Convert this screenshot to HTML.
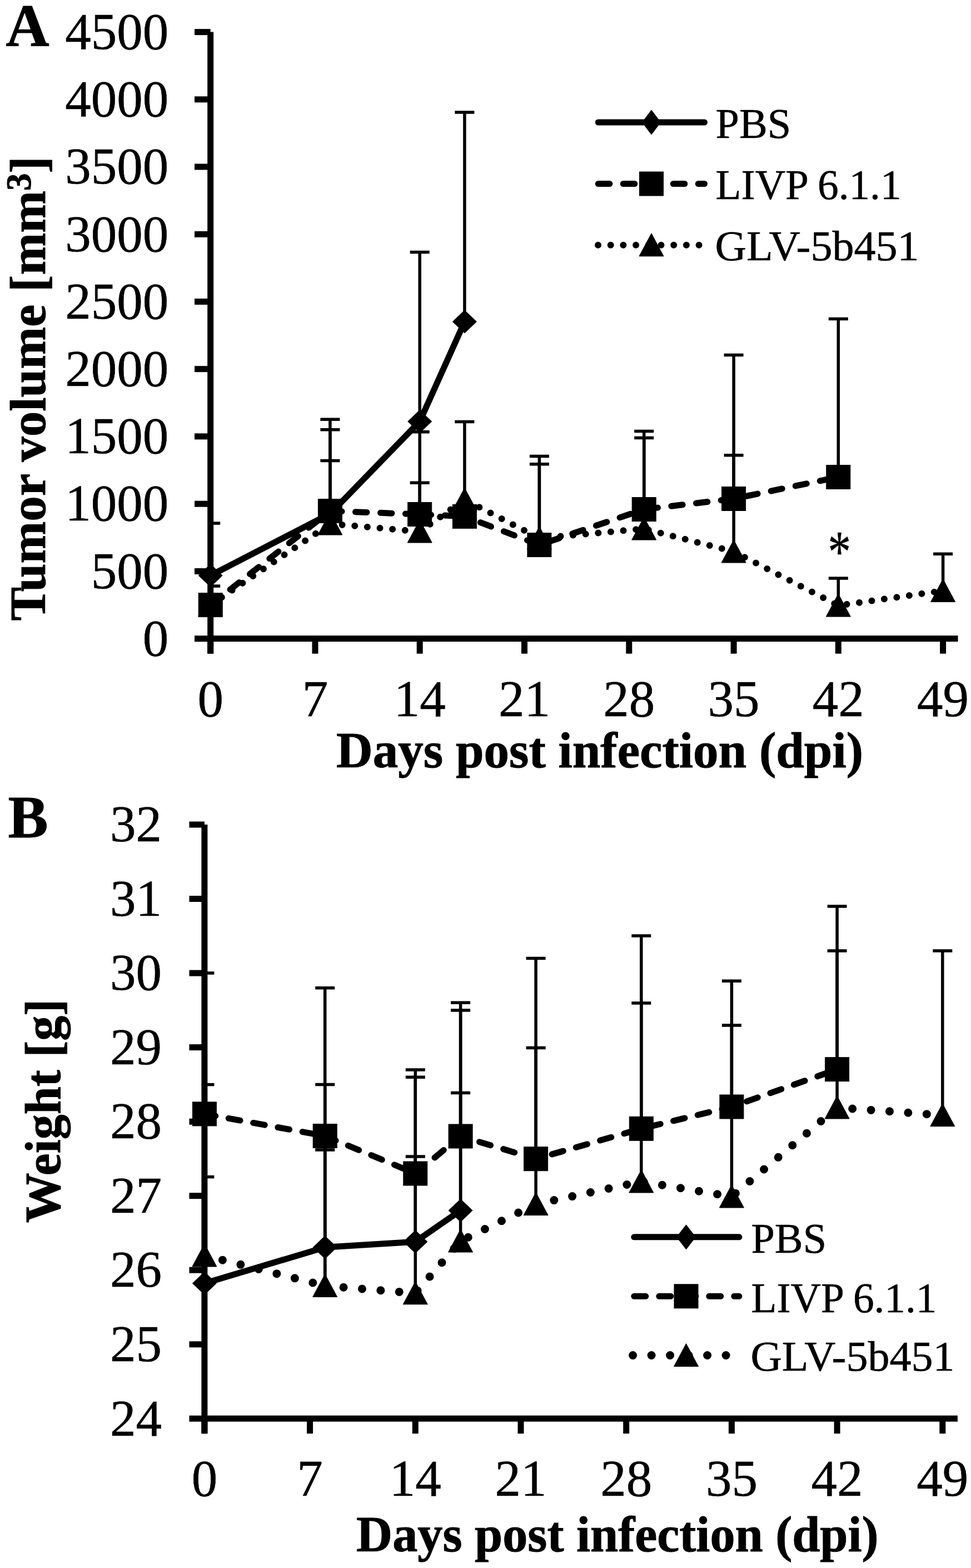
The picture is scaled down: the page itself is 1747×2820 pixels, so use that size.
<!DOCTYPE html>
<html><head><meta charset="utf-8"><title>Tumor volume and weight</title>
<style>
html,body{margin:0;padding:0;background:#fff;}
body{width:1747px;height:2820px;overflow:hidden;}
svg{display:block;font-family:"Liberation Serif","Times New Roman",serif;}

</style></head><body>
<svg width="1747" height="2820" viewBox="0 0 1747 2820">
<rect width="1747" height="2820" fill="#fff"/>
<g stroke="#000" fill="#000">
<line x1="378.7" y1="1035" x2="378.7" y2="941" stroke-width="5.5" stroke-linecap="butt" />
<line x1="378.7" y1="941" x2="396.2" y2="941" stroke-width="5.5" stroke-linecap="butt" />
<line x1="378.7" y1="1088" x2="378.7" y2="1054" stroke-width="5.5" stroke-linecap="butt" />
<line x1="378.7" y1="1054" x2="396.2" y2="1054" stroke-width="5.5" stroke-linecap="butt" />
<line x1="593.9" y1="924" x2="593.9" y2="754.2" stroke-width="5.5" stroke-linecap="butt" />
<line x1="576.4" y1="754.2" x2="611.4" y2="754.2" stroke-width="5.5" stroke-linecap="butt" />
<line x1="593.9" y1="919" x2="593.9" y2="772.7" stroke-width="5.5" stroke-linecap="butt" />
<line x1="576.4" y1="772.7" x2="611.4" y2="772.7" stroke-width="5.5" stroke-linecap="butt" />
<line x1="593.9" y1="942" x2="593.9" y2="828.4" stroke-width="5.5" stroke-linecap="butt" />
<line x1="576.4" y1="828.4" x2="611.4" y2="828.4" stroke-width="5.5" stroke-linecap="butt" />
<line x1="755.2" y1="758" x2="755.2" y2="453.5" stroke-width="5.5" stroke-linecap="butt" />
<line x1="737.7" y1="453.5" x2="772.7" y2="453.5" stroke-width="5.5" stroke-linecap="butt" />
<line x1="755.2" y1="925" x2="755.2" y2="776.7" stroke-width="5.5" stroke-linecap="butt" />
<line x1="737.7" y1="776.7" x2="772.7" y2="776.7" stroke-width="5.5" stroke-linecap="butt" />
<line x1="755.2" y1="956" x2="755.2" y2="868.3" stroke-width="5.5" stroke-linecap="butt" />
<line x1="737.7" y1="868.3" x2="772.7" y2="868.3" stroke-width="5.5" stroke-linecap="butt" />
<line x1="835.9" y1="578.5" x2="835.9" y2="201.9" stroke-width="5.5" stroke-linecap="butt" />
<line x1="818.4" y1="201.9" x2="853.4" y2="201.9" stroke-width="5.5" stroke-linecap="butt" />
<line x1="835.9" y1="928.8" x2="835.9" y2="758.6" stroke-width="5.5" stroke-linecap="butt" />
<line x1="818.4" y1="758.6" x2="853.4" y2="758.6" stroke-width="5.5" stroke-linecap="butt" />
<line x1="970.4" y1="980" x2="970.4" y2="820.4" stroke-width="5.5" stroke-linecap="butt" />
<line x1="952.9" y1="820.4" x2="987.9" y2="820.4" stroke-width="5.5" stroke-linecap="butt" />
<line x1="970.4" y1="968" x2="970.4" y2="834.7" stroke-width="5.5" stroke-linecap="butt" />
<line x1="952.9" y1="834.7" x2="987.9" y2="834.7" stroke-width="5.5" stroke-linecap="butt" />
<line x1="1158.7" y1="916" x2="1158.7" y2="775.5" stroke-width="5.5" stroke-linecap="butt" />
<line x1="1141.2" y1="775.5" x2="1176.2" y2="775.5" stroke-width="5.5" stroke-linecap="butt" />
<line x1="1158.7" y1="951" x2="1158.7" y2="787.5" stroke-width="5.5" stroke-linecap="butt" />
<line x1="1141.2" y1="787.5" x2="1176.2" y2="787.5" stroke-width="5.5" stroke-linecap="butt" />
<line x1="1320.1" y1="897" x2="1320.1" y2="638.6" stroke-width="5.5" stroke-linecap="butt" />
<line x1="1302.6" y1="638.6" x2="1337.6" y2="638.6" stroke-width="5.5" stroke-linecap="butt" />
<line x1="1320.1" y1="992" x2="1320.1" y2="818.7" stroke-width="5.5" stroke-linecap="butt" />
<line x1="1302.6" y1="818.7" x2="1337.6" y2="818.7" stroke-width="5.5" stroke-linecap="butt" />
<line x1="1508.3" y1="858" x2="1508.3" y2="573.5" stroke-width="5.5" stroke-linecap="butt" />
<line x1="1490.8" y1="573.5" x2="1525.8" y2="573.5" stroke-width="5.5" stroke-linecap="butt" />
<line x1="1508.3" y1="1089" x2="1508.3" y2="1040" stroke-width="5.5" stroke-linecap="butt" />
<line x1="1490.8" y1="1040" x2="1525.8" y2="1040" stroke-width="5.5" stroke-linecap="butt" />
<line x1="1696.6" y1="1062.4" x2="1696.6" y2="996.2" stroke-width="5.5" stroke-linecap="butt" />
<line x1="1679.1" y1="996.2" x2="1714.1" y2="996.2" stroke-width="5.5" stroke-linecap="butt" />
<polyline points="378.7,1035 593.9,924 755.2,758 835.9,578.5" fill="none" stroke-width="11" stroke-linecap="round" stroke-linejoin="round"/>
<line x1="378.7" y1="1088" x2="593.9" y2="919" fill="none" stroke-width="11" stroke-linecap="round" stroke-dasharray="20.5 24.5"/>
<line x1="593.9" y1="919" x2="755.2" y2="925" fill="none" stroke-width="11" stroke-linecap="round" stroke-dasharray="20.5 24.5" stroke-dashoffset="44.36"/>
<line x1="755.2" y1="925" x2="835.9" y2="928.8" fill="none" stroke-width="11" stroke-linecap="round" stroke-dasharray="20.5 24.5"/>
<line x1="835.9" y1="928.8" x2="970.4" y2="980" fill="none" stroke-width="11" stroke-linecap="round" stroke-dasharray="20.5 24.5" stroke-dashoffset="14.55"/>
<line x1="970.4" y1="980" x2="1158.7" y2="916" fill="none" stroke-width="11" stroke-linecap="round" stroke-dasharray="20.5 24.5" stroke-dashoffset="27.23"/>
<line x1="1158.7" y1="916" x2="1320.1" y2="897" fill="none" stroke-width="11" stroke-linecap="round" stroke-dasharray="20.5 24.5" stroke-dashoffset="40.59"/>
<line x1="1320.1" y1="897" x2="1508.3" y2="858" fill="none" stroke-width="11" stroke-linecap="round" stroke-dasharray="20.5 24.5" stroke-dashoffset="21.55"/>
<line x1="378.7" y1="1088" x2="593.9" y2="942" fill="none" stroke-width="12" stroke-linecap="round" stroke-dasharray="0 22.7" stroke-dashoffset="21.07"/>
<line x1="593.9" y1="942" x2="755.2" y2="956" fill="none" stroke-width="12" stroke-linecap="round" stroke-dasharray="0 22.7" stroke-dashoffset="0.86"/>
<line x1="755.2" y1="956" x2="835.9" y2="898.5" fill="none" stroke-width="12" stroke-linecap="round" stroke-dasharray="0 22.7"/>
<line x1="835.9" y1="898.5" x2="970.4" y2="968" fill="none" stroke-width="12" stroke-linecap="round" stroke-dasharray="0 22.7" stroke-dashoffset="15.62"/>
<line x1="970.4" y1="968" x2="1158.7" y2="951" fill="none" stroke-width="12" stroke-linecap="round" stroke-dasharray="0 22.7" stroke-dashoffset="7.17"/>
<line x1="1158.7" y1="951" x2="1320.1" y2="992" fill="none" stroke-width="12" stroke-linecap="round" stroke-dasharray="0 22.7" stroke-dashoffset="14.41"/>
<line x1="1320.1" y1="992" x2="1508.3" y2="1089" fill="none" stroke-width="12" stroke-linecap="round" stroke-dasharray="0 22.7" stroke-dashoffset="0.44"/>
<line x1="1508.3" y1="1089" x2="1696.6" y2="1062.4" fill="none" stroke-width="12" stroke-linecap="round" stroke-dasharray="0 22.7" stroke-dashoffset="7.35"/>
<polygon points="378.7,1014.5 400.2,1035 378.7,1055.5 357.2,1035"/>
<polygon points="593.9,903.5 615.4,924 593.9,944.5 572.4,924"/>
<polygon points="755.2,737.5 776.7,758 755.2,778.5 733.7,758"/>
<polygon points="835.9,558 857.4,578.5 835.9,599 814.4,578.5"/>
<rect x="357.2" y="1066.5" width="43" height="43"/>
<rect x="572.4" y="897.5" width="43" height="43"/>
<rect x="733.7" y="903.5" width="43" height="43"/>
<rect x="814.4" y="907.3" width="43" height="43"/>
<rect x="948.9" y="958.5" width="43" height="43"/>
<rect x="1137.2" y="894.5" width="43" height="43"/>
<rect x="1298.6" y="875.5" width="43" height="43"/>
<rect x="1486.8" y="836.5" width="43" height="43"/>
<polygon points="378.7,1067 400.7,1108 356.7,1108"/>
<polygon points="593.9,921 615.9,962 571.9,962"/>
<polygon points="755.2,935 777.2,976 733.2,976"/>
<polygon points="835.9,877.5 857.9,918.5 813.9,918.5"/>
<polygon points="970.4,947 992.4,988 948.4,988"/>
<polygon points="1158.7,930 1180.7,971 1136.7,971"/>
<polygon points="1320.1,971 1342.1,1012 1298.1,1012"/>
<polygon points="1508.3,1068 1530.3,1109 1486.3,1109"/>
<polygon points="1696.6,1041.4 1718.6,1082.4 1674.6,1082.4"/>
<line x1="378.7" y1="57.6" x2="378.7" y2="1175.6" stroke-width="11" stroke-linecap="butt" />
<line x1="350" y1="57.6" x2="378.7" y2="57.6" stroke-width="11" stroke-linecap="butt" />
<line x1="350" y1="178.8" x2="378.7" y2="178.8" stroke-width="11" stroke-linecap="butt" />
<line x1="350" y1="300" x2="378.7" y2="300" stroke-width="11" stroke-linecap="butt" />
<line x1="350" y1="421.3" x2="378.7" y2="421.3" stroke-width="11" stroke-linecap="butt" />
<line x1="350" y1="542.5" x2="378.7" y2="542.5" stroke-width="11" stroke-linecap="butt" />
<line x1="350" y1="663.7" x2="378.7" y2="663.7" stroke-width="11" stroke-linecap="butt" />
<line x1="350" y1="784.9" x2="378.7" y2="784.9" stroke-width="11" stroke-linecap="butt" />
<line x1="350" y1="906.2" x2="378.7" y2="906.2" stroke-width="11" stroke-linecap="butt" />
<line x1="350" y1="1027.4" x2="378.7" y2="1027.4" stroke-width="11" stroke-linecap="butt" />
<line x1="350" y1="1148.6" x2="378.7" y2="1148.6" stroke-width="11" stroke-linecap="butt" />
<line x1="378.7" y1="1148.6" x2="1723.5" y2="1148.6" stroke-width="11" stroke-linecap="butt" />
<line x1="378.7" y1="1148.6" x2="378.7" y2="1175.6" stroke-width="11" stroke-linecap="butt" />
<line x1="567" y1="1148.6" x2="567" y2="1175.6" stroke-width="11" stroke-linecap="butt" />
<line x1="755.2" y1="1148.6" x2="755.2" y2="1175.6" stroke-width="11" stroke-linecap="butt" />
<line x1="943.5" y1="1148.6" x2="943.5" y2="1175.6" stroke-width="11" stroke-linecap="butt" />
<line x1="1131.8" y1="1148.6" x2="1131.8" y2="1175.6" stroke-width="11" stroke-linecap="butt" />
<line x1="1320.1" y1="1148.6" x2="1320.1" y2="1175.6" stroke-width="11" stroke-linecap="butt" />
<line x1="1508.3" y1="1148.6" x2="1508.3" y2="1175.6" stroke-width="11" stroke-linecap="butt" />
<line x1="1696.6" y1="1148.6" x2="1696.6" y2="1175.6" stroke-width="11" stroke-linecap="butt" />
<text x="303.2" y="87.8" font-size="93" text-anchor="end" stroke="#000" stroke-width="0.6" >4500</text>
<text x="303.2" y="209" font-size="93" text-anchor="end" stroke="#000" stroke-width="0.6" >4000</text>
<text x="303.2" y="330.2" font-size="93" text-anchor="end" stroke="#000" stroke-width="0.6" >3500</text>
<text x="303.2" y="451.5" font-size="93" text-anchor="end" stroke="#000" stroke-width="0.6" >3000</text>
<text x="303.2" y="572.7" font-size="93" text-anchor="end" stroke="#000" stroke-width="0.6" >2500</text>
<text x="303.2" y="693.9" font-size="93" text-anchor="end" stroke="#000" stroke-width="0.6" >2000</text>
<text x="303.2" y="815.1" font-size="93" text-anchor="end" stroke="#000" stroke-width="0.6" >1500</text>
<text x="303.2" y="936.4" font-size="93" text-anchor="end" stroke="#000" stroke-width="0.6" >1000</text>
<text x="303.2" y="1057.6" font-size="93" text-anchor="end" stroke="#000" stroke-width="0.6" >500</text>
<text x="303.2" y="1178.8" font-size="93" text-anchor="end" stroke="#000" stroke-width="0.6" >0</text>
<text x="378.7" y="1288" font-size="93" text-anchor="middle" stroke="#000" stroke-width="0.6" >0</text>
<text x="567" y="1288" font-size="93" text-anchor="middle" stroke="#000" stroke-width="0.6" >7</text>
<text x="755.2" y="1288" font-size="93" text-anchor="middle" stroke="#000" stroke-width="0.6" >14</text>
<text x="943.5" y="1288" font-size="93" text-anchor="middle" stroke="#000" stroke-width="0.6" >21</text>
<text x="1131.8" y="1288" font-size="93" text-anchor="middle" stroke="#000" stroke-width="0.6" >28</text>
<text x="1320.1" y="1288" font-size="93" text-anchor="middle" stroke="#000" stroke-width="0.6" >35</text>
<text x="1508.3" y="1288" font-size="93" text-anchor="middle" stroke="#000" stroke-width="0.6" >42</text>
<text x="1696.6" y="1288" font-size="93" text-anchor="middle" stroke="#000" stroke-width="0.6" >49</text>
<line x1="1076.3" y1="220" x2="1267.5" y2="220" stroke-width="11" stroke-linecap="round" />
<polygon points="1172,198 1188.5,220 1172,242 1155.5,220"/>
<polyline points="1076.3,330.5 1267.5,330.5" fill="none" stroke-width="11" stroke-linecap="round" stroke-linejoin="round" stroke-dasharray="20.5 24.5"/>
<rect x="1150.5" y="309" width="43" height="43"/>
<polyline points="1076,440.8 1270,440.8" fill="none" stroke-width="12" stroke-linecap="round" stroke-linejoin="round" stroke-dasharray="0 22.7"/>
<polygon points="1172,419.8 1194,460.8 1150,460.8"/>
<text x="1287.6" y="248.3" font-size="77" text-anchor="start" stroke="#000" stroke-width="0.6" textLength="135.5" lengthAdjust="spacingAndGlyphs">PBS</text>
<text x="1287.6" y="358.3" font-size="77" text-anchor="start" stroke="#000" stroke-width="0.6" textLength="334" lengthAdjust="spacingAndGlyphs">LIVP 6.1.1</text>
<text x="1286.6" y="468" font-size="77" text-anchor="start" stroke="#000" stroke-width="0.6" textLength="367" lengthAdjust="spacingAndGlyphs">GLV-5b451</text>
<line x1="367.9" y1="2308" x2="367.9" y2="1750" stroke-width="5.5" stroke-linecap="butt" />
<line x1="367.9" y1="1750" x2="385.4" y2="1750" stroke-width="5.5" stroke-linecap="butt" />
<line x1="367.9" y1="2003.4" x2="367.9" y2="1950.6" stroke-width="5.5" stroke-linecap="butt" />
<line x1="367.9" y1="1950.6" x2="385.4" y2="1950.6" stroke-width="5.5" stroke-linecap="butt" />
<line x1="367.9" y1="2258" x2="367.9" y2="2116.6" stroke-width="5.5" stroke-linecap="butt" />
<line x1="367.9" y1="2116.6" x2="385.4" y2="2116.6" stroke-width="5.5" stroke-linecap="butt" />
<line x1="584.7" y1="2243.3" x2="584.7" y2="1776.7" stroke-width="5.5" stroke-linecap="butt" />
<line x1="567.2" y1="1776.7" x2="602.2" y2="1776.7" stroke-width="5.5" stroke-linecap="butt" />
<line x1="584.7" y1="2312.5" x2="584.7" y2="1950.6" stroke-width="5.5" stroke-linecap="butt" />
<line x1="567.2" y1="1950.6" x2="602.2" y2="1950.6" stroke-width="5.5" stroke-linecap="butt" />
<line x1="584.7" y1="2312.5" x2="584.7" y2="2068" stroke-width="5.5" stroke-linecap="butt" />
<line x1="567.2" y1="2068" x2="602.2" y2="2068" stroke-width="5.5" stroke-linecap="butt" />
<line x1="747.3" y1="2233.2" x2="747.3" y2="1923.9" stroke-width="5.5" stroke-linecap="butt" />
<line x1="729.8" y1="1923.9" x2="764.8" y2="1923.9" stroke-width="5.5" stroke-linecap="butt" />
<line x1="747.3" y1="2110.5" x2="747.3" y2="1937.3" stroke-width="5.5" stroke-linecap="butt" />
<line x1="729.8" y1="1937.3" x2="764.8" y2="1937.3" stroke-width="5.5" stroke-linecap="butt" />
<line x1="747.3" y1="2325.8" x2="747.3" y2="2080.1" stroke-width="5.5" stroke-linecap="butt" />
<line x1="729.8" y1="2080.1" x2="764.8" y2="2080.1" stroke-width="5.5" stroke-linecap="butt" />
<line x1="828.6" y1="2177" x2="828.6" y2="1803.3" stroke-width="5.5" stroke-linecap="butt" />
<line x1="811.1" y1="1803.3" x2="846.1" y2="1803.3" stroke-width="5.5" stroke-linecap="butt" />
<line x1="828.6" y1="2043.5" x2="828.6" y2="1817.1" stroke-width="5.5" stroke-linecap="butt" />
<line x1="811.1" y1="1817.1" x2="846.1" y2="1817.1" stroke-width="5.5" stroke-linecap="butt" />
<line x1="828.6" y1="2232" x2="828.6" y2="1965.5" stroke-width="5.5" stroke-linecap="butt" />
<line x1="811.1" y1="1965.5" x2="846.1" y2="1965.5" stroke-width="5.5" stroke-linecap="butt" />
<line x1="964.1" y1="2084.2" x2="964.1" y2="1723.6" stroke-width="5.5" stroke-linecap="butt" />
<line x1="946.6" y1="1723.6" x2="981.6" y2="1723.6" stroke-width="5.5" stroke-linecap="butt" />
<line x1="964.1" y1="2165.6" x2="964.1" y2="1884.5" stroke-width="5.5" stroke-linecap="butt" />
<line x1="946.6" y1="1884.5" x2="981.6" y2="1884.5" stroke-width="5.5" stroke-linecap="butt" />
<line x1="1153.8" y1="2029.8" x2="1153.8" y2="1682.9" stroke-width="5.5" stroke-linecap="butt" />
<line x1="1136.3" y1="1682.9" x2="1171.3" y2="1682.9" stroke-width="5.5" stroke-linecap="butt" />
<line x1="1153.8" y1="2125" x2="1153.8" y2="1804.1" stroke-width="5.5" stroke-linecap="butt" />
<line x1="1136.3" y1="1804.1" x2="1171.3" y2="1804.1" stroke-width="5.5" stroke-linecap="butt" />
<line x1="1316.4" y1="1990.5" x2="1316.4" y2="1764.2" stroke-width="5.5" stroke-linecap="butt" />
<line x1="1298.9" y1="1764.2" x2="1333.9" y2="1764.2" stroke-width="5.5" stroke-linecap="butt" />
<line x1="1316.4" y1="2152" x2="1316.4" y2="1844" stroke-width="5.5" stroke-linecap="butt" />
<line x1="1298.9" y1="1844" x2="1333.9" y2="1844" stroke-width="5.5" stroke-linecap="butt" />
<line x1="1506.1" y1="1923.2" x2="1506.1" y2="1630" stroke-width="5.5" stroke-linecap="butt" />
<line x1="1488.6" y1="1630" x2="1523.6" y2="1630" stroke-width="5.5" stroke-linecap="butt" />
<line x1="1506.1" y1="1992" x2="1506.1" y2="1709.9" stroke-width="5.5" stroke-linecap="butt" />
<line x1="1488.6" y1="1709.9" x2="1523.6" y2="1709.9" stroke-width="5.5" stroke-linecap="butt" />
<line x1="1695.8" y1="2005.7" x2="1695.8" y2="1709.9" stroke-width="5.5" stroke-linecap="butt" />
<line x1="1678.3" y1="1709.9" x2="1713.3" y2="1709.9" stroke-width="5.5" stroke-linecap="butt" />
<polyline points="367.9,2308 584.7,2243.3 747.3,2233.2 828.6,2177" fill="none" stroke-width="11" stroke-linecap="round" stroke-linejoin="round"/>
<line x1="367.9" y1="2003.4" x2="584.7" y2="2043" fill="none" stroke-width="11" stroke-linecap="round" stroke-dasharray="21 24" stroke-dashoffset="0.83"/>
<line x1="584.7" y1="2043" x2="747.3" y2="2110.5" fill="none" stroke-width="11" stroke-linecap="round" stroke-dasharray="21 24"/>
<line x1="747.3" y1="2110.5" x2="828.6" y2="2043.5" fill="none" stroke-width="11" stroke-linecap="round" stroke-dasharray="21 24"/>
<line x1="828.6" y1="2043.5" x2="964.1" y2="2084.2" fill="none" stroke-width="11" stroke-linecap="round" stroke-dasharray="21 24" stroke-dashoffset="9.57"/>
<line x1="964.1" y1="2084.2" x2="1153.8" y2="2029.8" fill="none" stroke-width="11" stroke-linecap="round" stroke-dasharray="21 24" stroke-dashoffset="14.82"/>
<line x1="1153.8" y1="2029.8" x2="1316.4" y2="1990.5" fill="none" stroke-width="11" stroke-linecap="round" stroke-dasharray="21 24" stroke-dashoffset="30.56"/>
<line x1="1316.4" y1="1990.5" x2="1506.1" y2="1923.2" fill="none" stroke-width="11" stroke-linecap="round" stroke-dasharray="21 24" stroke-dashoffset="16.23"/>
<line x1="367.9" y1="2258" x2="584.7" y2="2312.5" fill="none" stroke-width="15" stroke-linecap="round" stroke-dasharray="0 33.5"/>
<line x1="584.7" y1="2312.5" x2="747.3" y2="2325.8" fill="none" stroke-width="15" stroke-linecap="round" stroke-dasharray="0 33.5"/>
<line x1="747.3" y1="2325.8" x2="828.6" y2="2232" fill="none" stroke-width="15" stroke-linecap="round" stroke-dasharray="0 33.5" stroke-dashoffset="27.62"/>
<line x1="828.6" y1="2232" x2="964.1" y2="2165.6" fill="none" stroke-width="15" stroke-linecap="round" stroke-dasharray="0 33.5" stroke-dashoffset="18.22"/>
<line x1="964.1" y1="2165.6" x2="1153.8" y2="2125" fill="none" stroke-width="15" stroke-linecap="round" stroke-dasharray="0 33.5"/>
<line x1="1153.8" y1="2125" x2="1316.4" y2="2152" fill="none" stroke-width="15" stroke-linecap="round" stroke-dasharray="0 33.5" stroke-dashoffset="28.85"/>
<line x1="1316.4" y1="2152" x2="1506.1" y2="1992" fill="none" stroke-width="15" stroke-linecap="round" stroke-dasharray="0 33.5" stroke-dashoffset="24.39"/>
<line x1="1506.1" y1="1992" x2="1695.8" y2="2005.7" fill="none" stroke-width="15" stroke-linecap="round" stroke-dasharray="0 33.5" stroke-dashoffset="5.87"/>
<polygon points="367.9,2287.5 389.4,2308 367.9,2328.5 346.4,2308"/>
<polygon points="584.7,2222.8 606.2,2243.3 584.7,2263.8 563.2,2243.3"/>
<polygon points="747.3,2212.7 768.8,2233.2 747.3,2253.7 725.8,2233.2"/>
<polygon points="828.6,2156.5 850.1,2177 828.6,2197.5 807.1,2177"/>
<rect x="346.4" y="1981.9" width="43" height="43"/>
<rect x="563.2" y="2021.5" width="43" height="43"/>
<rect x="725.8" y="2089" width="43" height="43"/>
<rect x="807.1" y="2022" width="43" height="43"/>
<rect x="942.6" y="2062.7" width="43" height="43"/>
<rect x="1132.3" y="2008.3" width="43" height="43"/>
<rect x="1294.9" y="1969" width="43" height="43"/>
<rect x="1484.6" y="1901.7" width="43" height="43"/>
<polygon points="367.9,2237 389.9,2278 345.9,2278"/>
<polygon points="584.7,2291.5 606.7,2332.5 562.7,2332.5"/>
<polygon points="747.3,2304.8 769.3,2345.8 725.3,2345.8"/>
<polygon points="828.6,2211 850.6,2252 806.6,2252"/>
<polygon points="964.1,2144.6 986.1,2185.6 942.1,2185.6"/>
<polygon points="1153.8,2104 1175.8,2145 1131.8,2145"/>
<polygon points="1316.4,2131 1338.4,2172 1294.4,2172"/>
<polygon points="1506.1,1971 1528.1,2012 1484.1,2012"/>
<polygon points="1695.8,1984.7 1717.8,2025.7 1673.8,2025.7"/>
<line x1="367.9" y1="1483" x2="367.9" y2="2578.3" stroke-width="11" stroke-linecap="butt" />
<line x1="340.5" y1="1483" x2="367.9" y2="1483" stroke-width="11" stroke-linecap="butt" />
<line x1="340.5" y1="1616.5" x2="367.9" y2="1616.5" stroke-width="11" stroke-linecap="butt" />
<line x1="340.5" y1="1750.1" x2="367.9" y2="1750.1" stroke-width="11" stroke-linecap="butt" />
<line x1="340.5" y1="1883.6" x2="367.9" y2="1883.6" stroke-width="11" stroke-linecap="butt" />
<line x1="340.5" y1="2017.2" x2="367.9" y2="2017.2" stroke-width="11" stroke-linecap="butt" />
<line x1="340.5" y1="2150.7" x2="367.9" y2="2150.7" stroke-width="11" stroke-linecap="butt" />
<line x1="340.5" y1="2284.2" x2="367.9" y2="2284.2" stroke-width="11" stroke-linecap="butt" />
<line x1="340.5" y1="2417.8" x2="367.9" y2="2417.8" stroke-width="11" stroke-linecap="butt" />
<line x1="340.5" y1="2551.3" x2="367.9" y2="2551.3" stroke-width="11" stroke-linecap="butt" />
<line x1="367.9" y1="2551.3" x2="1722.9" y2="2551.3" stroke-width="11" stroke-linecap="butt" />
<line x1="367.9" y1="2551.3" x2="367.9" y2="2578.3" stroke-width="11" stroke-linecap="butt" />
<line x1="557.6" y1="2551.3" x2="557.6" y2="2578.3" stroke-width="11" stroke-linecap="butt" />
<line x1="747.3" y1="2551.3" x2="747.3" y2="2578.3" stroke-width="11" stroke-linecap="butt" />
<line x1="937" y1="2551.3" x2="937" y2="2578.3" stroke-width="11" stroke-linecap="butt" />
<line x1="1126.7" y1="2551.3" x2="1126.7" y2="2578.3" stroke-width="11" stroke-linecap="butt" />
<line x1="1316.4" y1="2551.3" x2="1316.4" y2="2578.3" stroke-width="11" stroke-linecap="butt" />
<line x1="1506.1" y1="2551.3" x2="1506.1" y2="2578.3" stroke-width="11" stroke-linecap="butt" />
<line x1="1695.8" y1="2551.3" x2="1695.8" y2="2578.3" stroke-width="11" stroke-linecap="butt" />
<text x="291" y="1513.2" font-size="93" text-anchor="end" stroke="#000" stroke-width="0.6" >32</text>
<text x="291" y="1646.7" font-size="93" text-anchor="end" stroke="#000" stroke-width="0.6" >31</text>
<text x="291" y="1780.3" font-size="93" text-anchor="end" stroke="#000" stroke-width="0.6" >30</text>
<text x="291" y="1913.8" font-size="93" text-anchor="end" stroke="#000" stroke-width="0.6" >29</text>
<text x="291" y="2047.4" font-size="93" text-anchor="end" stroke="#000" stroke-width="0.6" >28</text>
<text x="291" y="2180.9" font-size="93" text-anchor="end" stroke="#000" stroke-width="0.6" >27</text>
<text x="291" y="2314.4" font-size="93" text-anchor="end" stroke="#000" stroke-width="0.6" >26</text>
<text x="291" y="2448" font-size="93" text-anchor="end" stroke="#000" stroke-width="0.6" >25</text>
<text x="291" y="2581.5" font-size="93" text-anchor="end" stroke="#000" stroke-width="0.6" >24</text>
<text x="367.9" y="2690.2" font-size="93" text-anchor="middle" stroke="#000" stroke-width="0.6" >0</text>
<text x="557.6" y="2690.2" font-size="93" text-anchor="middle" stroke="#000" stroke-width="0.6" >7</text>
<text x="747.3" y="2690.2" font-size="93" text-anchor="middle" stroke="#000" stroke-width="0.6" >14</text>
<text x="937" y="2690.2" font-size="93" text-anchor="middle" stroke="#000" stroke-width="0.6" >21</text>
<text x="1126.7" y="2690.2" font-size="93" text-anchor="middle" stroke="#000" stroke-width="0.6" >28</text>
<text x="1316.4" y="2690.2" font-size="93" text-anchor="middle" stroke="#000" stroke-width="0.6" >35</text>
<text x="1506.1" y="2690.2" font-size="93" text-anchor="middle" stroke="#000" stroke-width="0.6" >42</text>
<text x="1695.8" y="2690.2" font-size="93" text-anchor="middle" stroke="#000" stroke-width="0.6" >49</text>
<line x1="1140.8" y1="2224.8" x2="1329.9" y2="2224.8" stroke-width="11" stroke-linecap="round" />
<polygon points="1234.5,2202.8 1251.5,2224.8 1234.5,2246.8 1217.5,2224.8"/>
<polyline points="1140.8,2331.3 1329.9,2331.3" fill="none" stroke-width="11" stroke-linecap="round" stroke-linejoin="round" stroke-dasharray="21 24"/>
<rect x="1213" y="2309.8" width="43" height="43"/>
<polyline points="1138.6,2437.5 1332.4,2437.5" fill="none" stroke-width="15" stroke-linecap="round" stroke-linejoin="round" stroke-dasharray="0 33.5"/>
<polygon points="1234.5,2416.5 1256.5,2457.5 1212.5,2457.5"/>
<text x="1351.5" y="2253.4" font-size="77" text-anchor="start" stroke="#000" stroke-width="0.6" textLength="135.5" lengthAdjust="spacingAndGlyphs">PBS</text>
<text x="1351.5" y="2360.4" font-size="77" text-anchor="start" stroke="#000" stroke-width="0.6" textLength="334" lengthAdjust="spacingAndGlyphs">LIVP 6.1.1</text>
<text x="1350.5" y="2465" font-size="77" text-anchor="start" stroke="#000" stroke-width="0.6" textLength="367" lengthAdjust="spacingAndGlyphs">GLV-5b451</text>
</g>
<g fill="#000" stroke="none">
<text x="10.5" y="82.5" font-size="108" text-anchor="start" font-weight="bold" class="b" stroke="#000" stroke-width="1" >A</text>
<text x="14.5" y="1506.3" font-size="108" text-anchor="start" font-weight="bold" class="b" stroke="#000" stroke-width="1" >B</text>
<text x="605" y="1380" font-size="91" text-anchor="start" font-weight="bold" class="b" stroke="#000" stroke-width="1" >Days post infection (dpi)</text>
<text x="641.1" y="2790.2" font-size="90.2" text-anchor="start" font-weight="bold" class="b" stroke="#000" stroke-width="1" >Days post infection (dpi)</text>
<text transform="translate(81,1116.5) rotate(-90)" x="0" y="0" font-size="91" font-weight="bold" class="b" stroke="#000" stroke-width="1">Tumor volume [mm<tspan font-size="63" dy="-26">3</tspan><tspan dy="26">]</tspan></text>
<text transform="translate(107.5,2199.3) rotate(-90)" x="0" y="0" font-size="90" font-weight="bold" class="b" stroke="#000" stroke-width="1">Weight [g]</text>
<text transform="translate(1510.2,1027.6) scale(0.79,1)" x="0" y="0" font-size="105" text-anchor="middle" style="stroke:#000;stroke-width:0.6px">*</text>
</g>
</svg>
</body></html>
